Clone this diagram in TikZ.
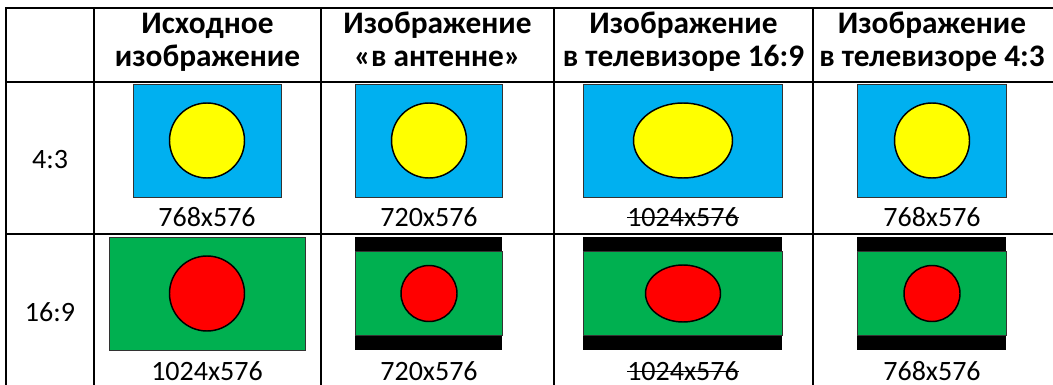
\documentclass[tikz,border=0pt]{standalone}
\usepackage{fontspec}
\setmainfont{Carlito}
\definecolor{skyb}{HTML}{00B0F0}
\definecolor{yel}{HTML}{FFFF00}
\definecolor{grn}{HTML}{00B050}
\definecolor{rd}{HTML}{FF0000}
\tikzset{
  grid/.style={line width=1.5pt, black},
  hdr/.style={anchor=base, inner sep=0pt, font=\fontsize{23.5}{26}\selectfont\bfseries},
  lbl/.style={anchor=base, inner sep=0pt, font=\fontsize{21}{24}\selectfont},
  screen/.style={draw=black!80, line width=0.6pt},
  disc/.style={draw=black, line width=1.1pt},
  strike/.style={line width=0.9pt, black},
}
\begin{document}
\begin{tikzpicture}[x=0.75pt, y=-0.75pt]
\useasboundingbox (0,0) rectangle (1053,385);
% table grid
\foreach \x in {6,94,321,554,813} \draw[grid] (\x,8) -- (\x,386);
\foreach \y in {8,82,234} \draw[grid] (5,\y) -- (1054,\y);
% headers
\node[hdr] (h1a) at (207.5,34) {Исходное};
\node[hdr] (h1b) at (207.5,67) {изображение};
\node[hdr] (h2a) at (437.5,34) {Изображение};
\node[hdr] (h2b) at (437.5,67) {«в антенне»};
\node[hdr] (h3a) at (683.5,34) {Изображение};
\node[hdr] (h3b) at (683.5,67) {в телевизоре 16:9};
\node[hdr] (h4a) at (932,34) {Изображение};
\node[hdr] (h4b) at (932,67) {в телевизоре 4:3};
% row labels
\node[lbl] (r1) at (50,168.5) {4:3};
\node[lbl] (r2) at (50,321.5) {16:9};
% row 1 (4:3)
\draw[screen, fill=skyb] (133,84) rectangle (281,197);
\draw[disc, fill=yel] (207,140.5) circle (37.5);
\draw[screen, fill=skyb] (355,84) rectangle (502,197);
\draw[disc, fill=yel] (429,140.5) circle (37.5);
\draw[screen, fill=skyb] (583,84) rectangle (782,197);
\draw[disc, fill=yel] (683,140.5) ellipse (49.5 and 37.5);
\draw[screen, fill=skyb] (857,84) rectangle (1006,197);
\draw[disc, fill=yel] (932,140.5) circle (37.5);
\node[lbl] (c11) at (207,226) {768x576};
\node[lbl] (c12) at (429,226) {720x576};
\node[lbl] (c13) at (683,226) {1024x576};
\draw[strike] ([yshift=6.3pt]c13.base west) -- ([yshift=6.3pt]c13.base east);
\node[lbl] (c14) at (932,226) {768x576};
% row 2 (16:9)
\draw[screen, fill=grn] (109,237) rectangle (305,350);
\draw[disc, fill=rd] (207,293.5) circle (37.5);
\fill[black] (355,237) rectangle (502,350);
\draw[screen, fill=grn] (355,251) rectangle (502,335);
\draw[disc, fill=rd] (429,293.5) circle (28);
\fill[black] (583,237) rectangle (782,350);
\draw[screen, fill=grn] (583,251) rectangle (782,335);
\draw[disc, fill=rd] (683,293.5) ellipse (37.5 and 28.5);
\fill[black] (857,237) rectangle (1006,350);
\draw[screen, fill=grn] (857,251) rectangle (1006,335);
\draw[disc, fill=rd] (932,293.5) circle (28);
\node[lbl] (c21) at (207,380) {1024x576};
\node[lbl] (c22) at (429,380) {720x576};
\node[lbl] (c23) at (683,380) {1024x576};
\draw[strike] ([yshift=6.3pt]c23.base west) -- ([yshift=6.3pt]c23.base east);
\node[lbl] (c24) at (932,380) {768x576};
\end{tikzpicture}
\end{document}
